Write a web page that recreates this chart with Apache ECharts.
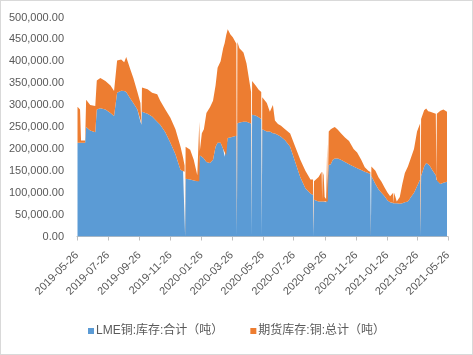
<!DOCTYPE html>
<html><head><meta charset="utf-8">
<script src="https://cdn.jsdelivr.net/npm/echarts@6/dist/echarts.min.js"></script>
<style>html,body{margin:0;padding:0;background:#fff}
#c{position:absolute;left:0;top:0;width:471px;height:353px;border:1px solid #d9d9d9}</style>
</head><body><div id="c"></div>
<script>
const seriesNames = ['LME铜:库存:合计（吨）', '期货库存:铜:总计（吨）'];
const tickDates = ['2019-05-26','2019-07-26','2019-09-26','2019-11-26','2020-01-26','2020-03-26','2020-05-26','2020-07-26','2020-09-26','2020-11-26','2021-01-26','2021-03-26','2021-05-26'];
const dates = [
'2019-05-27','2019-06-01','2019-06-03','2019-06-11','2019-06-13','2019-06-21','2019-07-01','2019-07-04','2019-07-11','2019-07-21',
'2019-07-31','2019-08-07','2019-08-13','2019-08-21','2019-08-27','2019-08-31','2019-09-08','2019-09-14','2019-09-22','2019-09-28',
'2019-09-29','2019-09-30','2019-10-01','2019-10-12','2019-10-21','2019-10-31','2019-11-06','2019-11-16','2019-11-26','2019-12-06',
'2019-12-16','2019-12-21','2019-12-24','2019-12-25','2019-12-26','2020-01-04','2020-01-11','2020-01-18','2020-01-21','2020-01-22',
'2020-01-23','2020-01-27','2020-01-31','2020-02-05','2020-02-12','2020-02-18','2020-02-23','2020-02-27','2020-03-04','2020-03-09',
'2020-03-12','2020-03-15','2020-03-18','2020-03-23','2020-03-28','2020-04-04','2020-04-05','2020-04-06','2020-04-10','2020-04-18',
'2020-04-24','2020-05-03','2020-05-04','2020-05-05','2020-05-12','2020-05-18','2020-05-23','2020-05-24','2020-05-25','2020-06-03',
'2020-06-09','2020-06-15','2020-06-19','2020-06-25','2020-07-01','2020-07-09','2020-07-19','2020-07-29','2020-08-08','2020-08-18',
'2020-08-28','2020-09-02','2020-09-03','2020-09-04','2020-09-13','2020-09-19','2020-09-20','2020-09-21','2020-09-23','2020-09-25',
'2020-09-28','2020-09-29','2020-09-30','2020-10-01','2020-10-03','2020-10-07','2020-10-11','2020-10-15','2020-10-21','2020-10-27',
'2020-11-04','2020-11-12','2020-11-21','2020-11-28','2020-12-06','2020-12-13','2020-12-20','2020-12-24','2020-12-25','2020-12-26',
'2021-01-03','2021-01-09','2021-01-15','2021-01-21','2021-01-27','2021-02-01','2021-02-07','2021-02-08','2021-02-09','2021-02-14',
'2021-02-20','2021-02-25','2021-03-02','2021-03-08','2021-03-14','2021-03-20','2021-03-26','2021-04-01','2021-04-02','2021-04-03',
'2021-04-09','2021-04-13','2021-04-17','2021-04-21','2021-04-25','2021-05-02','2021-05-03','2021-05-04','2021-05-11','2021-05-17',
'2021-05-24'];
const lme = [
214000,214000,214000,214000,250000,242000,238000,290000,293000,290000,
282000,275000,328000,333000,332000,330000,315000,305000,290000,262000,
262000,255000,285000,280000,274000,262000,255000,238000,214000,188000,
152000,150000,148000,0,132000,130000,128000,126000,126000,126000,
185000,182000,178000,170000,168000,175000,205000,214000,214000,200000,
182000,185000,225000,226000,228000,230000,0,258000,260000,262000,
262000,258000,0,278000,276000,272000,268000,0,245000,240000,
240000,236000,235000,232000,228000,220000,205000,170000,135000,110000,
98000,95000,0,84000,80000,80000,80000,80000,80000,80000,
78000,78000,80000,80000,163000,165000,175000,178000,178000,175000,
170000,165000,160000,156000,152000,148000,145000,142000,0,138000,
120000,108000,100000,92000,82000,78000,76000,76000,76000,76000,
75000,76000,78000,80000,90000,100000,115000,130000,0,138000,
160000,168000,165000,160000,152000,140000,130000,128000,120000,123000,
125000];
const shfe = [
82000,76000,5000,5000,62000,58000,60000,66000,69000,65000,
63000,57000,74000,71000,66000,80000,67000,57000,40000,43000,
43000,0,55000,56000,54000,63000,55000,52000,57000,57000,
53000,30000,14000,18000,73000,68000,47000,14000,10000,136000,
10000,54000,67000,112000,127000,135000,140000,171000,186000,230000,
260000,275000,248000,236000,227000,210000,0,186000,170000,158000,
133000,72000,0,77000,69000,63000,62000,0,73000,65000,
45000,64000,30000,25000,25000,25000,30000,35000,40000,40000,
32000,35000,0,42000,56000,68000,5000,68000,60000,10000,
7000,7000,133000,10000,77000,80000,73000,72000,66000,61000,
56000,53000,40000,36000,23000,10000,5000,5000,10000,22000,
30000,27000,25000,20000,18000,14000,24000,0,24000,4000,
15000,44000,67000,80000,90000,100000,125000,128000,0,130000,
128000,124000,121000,125000,131000,140000,0,152000,167000,167000,
160000];

function ts(s){const p=s.split('-');return Date.UTC(+p[0],+p[1]-1,+p[2]);}
function pad(n){return (n<10?'0':'')+n;}
function fmt(v){const d=new Date(v);return d.getUTCFullYear()+'-'+pad(d.getUTCMonth()+1)+'-'+pad(d.getUTCDate());}
const tickTs = tickDates.map(ts);
const txt = '#595959';
const font = '"Liberation Sans", "Noto Sans CJK SC", sans-serif';
const chart = echarts.init(document.getElementById('c'), null, {renderer:'canvas'});
chart.setOption({
  animation:false,
  textStyle:{fontFamily:font},
  grid:{left:76, right:24, top:16.5, bottom:117.5, containLabel:false},
  legend:{
    data:seriesNames, bottom:12, left:'center', icon:'rect', itemWidth:6, itemHeight:6, itemGap:27,
    textStyle:{color:txt, fontSize:12, fontFamily:font, padding:[0,0,0,-3]}
  },
  xAxis:{
    type:'value', min:tickTs[0], max:tickTs[tickTs.length-1], scale:true,
    splitLine:{show:false},
    axisLine:{lineStyle:{color:'#bfbfbf'}},
    axisTick:{customValues:tickTs, length:4, lineStyle:{color:'#bfbfbf'}},
    axisLabel:{customValues:tickTs, rotate:45, margin:17, color:txt, fontSize:11, fontFamily:font,
      formatter:function(v){return fmt(v);}, hideOverlap:false}
  },
  yAxis:{
    type:'value', min:0, max:500000, interval:50000,
    splitLine:{show:false}, axisLine:{show:false}, axisTick:{show:false},
    axisLabel:{margin:13, color:txt, fontSize:11, fontFamily:font,
      formatter:function(v){return v.toLocaleString('en-US',{minimumFractionDigits:2,maximumFractionDigits:2});}}
  },
  series:[
    {name:seriesNames[0], type:'line', stack:'total', symbol:'none', silent:true,
     encode:{x:1, y:0},
     lineStyle:{width:0}, itemStyle:{color:'#5B9BD5'}, areaStyle:{color:'#5B9BD5', opacity:1},
     data:dates.map((d,i)=>[lme[i], ts(d)])},
    {name:seriesNames[1], type:'line', stack:'total', symbol:'none', silent:true,
     encode:{x:1, y:0},
     lineStyle:{width:0}, itemStyle:{color:'#ED7D31'}, areaStyle:{color:'#ED7D31', opacity:1},
     data:dates.map((d,i)=>[shfe[i], ts(d)])}
  ]
});
</script></body></html>
